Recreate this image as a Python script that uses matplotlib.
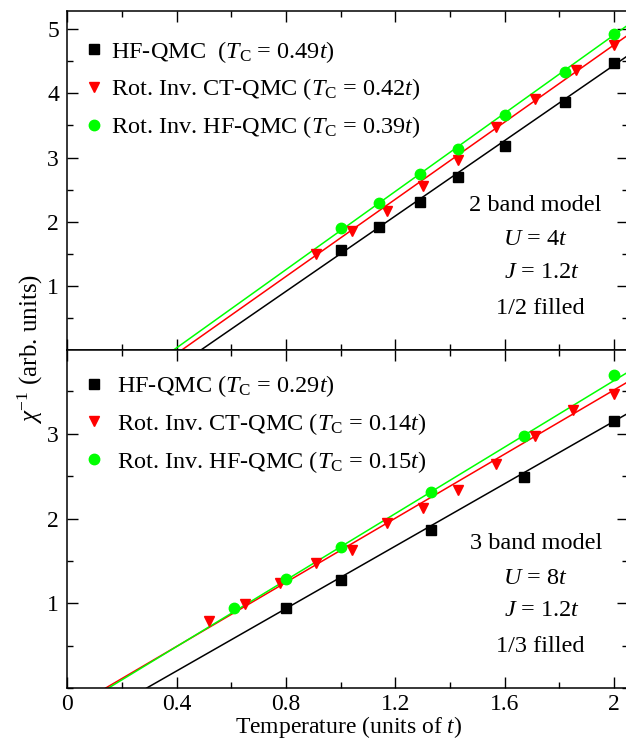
import matplotlib
matplotlib.use('Agg')
import matplotlib.pyplot as plt
from matplotlib.ticker import MultipleLocator, FixedLocator
import numpy as np

plt.rcParams['font.family'] = ['Liberation Serif', 'DejaVu Serif']
plt.rcParams['mathtext.fontset'] = 'custom'
plt.rcParams['mathtext.rm'] = 'Liberation Serif'
plt.rcParams['mathtext.it'] = 'Liberation Serif:italic'
plt.rcParams['font.size'] = 17.5

# ---------------- data: 2 band model (top panel) ----------------
top_hf_T = [1.00, 1.14, 1.29, 1.43, 1.60, 1.82, 2.00]
top_hf_chi = [1.56, 1.92, 2.30, 2.69, 3.18, 3.86, 4.48]
top_ct_T = [0.91, 1.04, 1.17, 1.30, 1.43, 1.57, 1.71, 1.86, 2.00]
top_ct_chi = [1.49, 1.86, 2.17, 2.56, 2.96, 3.47, 3.91, 4.36, 4.76]
top_ri_T = [1.00, 1.14, 1.29, 1.43, 1.60, 1.82, 2.00]
top_ri_chi = [1.90, 2.29, 2.74, 3.13, 3.67, 4.34, 4.93]
top_tc = [0.49, 0.42, 0.39]        # fit intercepts (HF, CT, rot. inv. HF)
top_slope = [2.94, 3.01, 3.05]

# ---------------- data: 3 band model (bottom panel) ----------------
bot_hf_T = [0.80, 1.00, 1.33, 1.67, 2.00]
bot_hf_chi = [0.95, 1.28, 1.86, 2.49, 3.15]
bot_ct_T = [0.52, 0.65, 0.78, 0.91, 1.04, 1.17, 1.30, 1.43, 1.57, 1.71, 1.85, 2.00]
bot_ct_chi = [0.79, 0.99, 1.24, 1.47, 1.63, 1.95, 2.12, 2.34, 2.64, 2.97, 3.28, 3.47]
bot_ri_T = [0.61, 0.80, 1.00, 1.33, 1.67, 2.00]
bot_ri_chi = [0.95, 1.29, 1.66, 2.31, 2.97, 3.69]
bot_tc = [0.29, 0.14, 0.15]
bot_slope = [1.84, 1.89, 1.96]

x_ticks = [0, 0.4, 0.8, 1.2, 1.6, 2.0]
x_ticklabels = ['0', '0.4', '0.8', '1.2', '1.6', '2']

colors = ['black', '#ff0000', '#00ff00']
markers = ['s', 'v', 'o']
msizes = [6.5, 7.5, 7.5]


def draw_panel(ax, series, tcs, slopes, names, info, ymax, yticks,
               leg_y, label_gap):
    for i in range(3):
        t = np.array([tcs[i], 2.2])
        ax.plot(t, slopes[i] * (t - tcs[i]), color=colors[i], lw=1.1, zorder=2)
    for i in range(3):
        T, chi = series[i]
        ax.plot(T, chi, ls='none', marker=markers[i], ms=msizes[i],
                color=colors[i], mec=colors[i], zorder=3,
                label=names[i])

    ax.legend(loc='upper left', bbox_to_anchor=(0.0264, leg_y),
              frameon=False, numpoints=1, handlelength=1.0,
              handletextpad=label_gap, labelspacing=0.49,
              borderpad=0.0, borderaxespad=0.0, fontsize=17.5)

    xs = [0.836, 0.835, 0.847, 0.844]
    ys = [0.427, 0.324, 0.229, 0.123]
    for k in range(4):
        ax.text(xs[k], ys[k], info[k], transform=ax.transAxes,
                ha='center', va='center', fontsize=17.5)

    ax.set_xlim(0, 2.05)
    ax.set_ylim(0, ymax)
    ax.xaxis.set_major_locator(FixedLocator(x_ticks))
    ax.xaxis.set_minor_locator(MultipleLocator(0.2))
    ax.yaxis.set_major_locator(FixedLocator(yticks))
    ax.yaxis.set_minor_locator(MultipleLocator(0.5))
    ax.tick_params(which='both', direction='in', top=True, right=True,
                   width=1.0, labelsize=17)
    ax.tick_params(which='major', length=8, pad=6)
    ax.tick_params(axis='x', which='major', pad=4)
    ax.tick_params(which='minor', length=4)
    for s in ax.spines.values():
        s.set_linewidth(1.1)


fig = plt.figure(figsize=(6.26, 7.4), dpi=100)
ax_top = fig.add_axes([0.1075, 0.5273, 0.895, 0.4582])
ax_bot = fig.add_axes([0.1075, 0.0701, 0.895, 0.4572])

draw_panel(ax_top,
           [(top_hf_T, top_hf_chi), (top_ct_T, top_ct_chi), (top_ri_T, top_ri_chi)],
           top_tc, top_slope,
           [r'HF-QMC  ($T_{\rm C}$ = %.2f$t$)' % top_tc[0],
            r'Rot. Inv. CT-QMC ($T_{\rm C}$ = %.2f$t$)' % top_tc[1],
            r'Rot. Inv. HF-QMC ($T_{\rm C}$ = %.2f$t$)' % top_tc[2]],
           ['2 band model', r'$U$ = 4$t$', r'$J$ = 1.2$t$', '1/2 filled'],
           5.29, [1, 2, 3, 4, 5], 0.9175, 0.19)
ax_top.set_xticklabels([])

draw_panel(ax_bot,
           [(bot_hf_T, bot_hf_chi), (bot_ct_T, bot_ct_chi), (bot_ri_T, bot_ri_chi)],
           bot_tc, bot_slope,
           [r'HF-QMC ($T_{\rm C}$ = %.2f$t$)' % bot_tc[0],
            r'Rot. Inv. CT-QMC ($T_{\rm C}$ = %.2f$t$)' % bot_tc[1],
            r'Rot. Inv. HF-QMC ($T_{\rm C}$ = %.2f$t$)' % bot_tc[2]],
           ['3 band model', r'$U$ = 8$t$', r'$J$ = 1.2$t$', '1/3 filled'],
           3.99, [1, 2, 3], 0.931, 0.44)
ax_bot.set_xticklabels(x_ticklabels)

fig.text(0.048, 0.528, r'$\chi^{-1}$ (arb. units)', rotation=90,
         ha='center', va='center', fontsize=18)
fig.text(0.557, 0.009, r'Temperature (units of $t$)', ha='center',
         va='baseline', fontsize=17)

fig.savefig('out.png', dpi=100)
